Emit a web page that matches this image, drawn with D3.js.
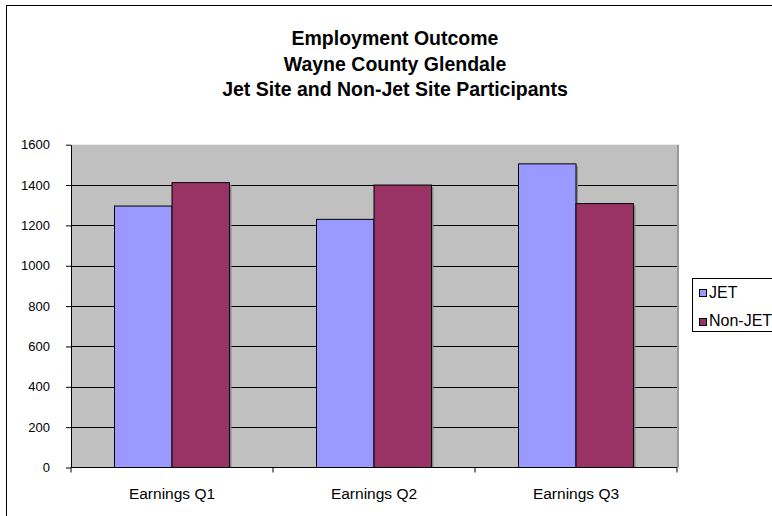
<!DOCTYPE html>
<html>
<head>
<meta charset="utf-8">
<script src="https://cdn.jsdelivr.net/npm/d3@7"></script>
<style>
  body { margin: 0; background: #fff; }
  svg { display: block; font-family: Arial, "Liberation Sans", sans-serif; }
</style>
</head>
<body>
<svg width="772" height="516"></svg>
<script>
// chart data
const categories = ["Earnings Q1", "Earnings Q2", "Earnings Q3"];
const seriesNames = ["JET", "Non-JET"];
const jetValues = [1296, 1230, 1505];
const nonJetValues = [1412, 1400, 1308];
const yTicks = [0, 200, 400, 600, 800, 1000, 1200, 1400, 1600];
const titleLines = ["Employment Outcome", "Wayne County Glendale", "Jet Site and Non-Jet Site Participants"];

const colors = {JET: "#9999ff", "Non-JET": "#993366"};
const series = [jetValues, nonJetValues];

let svg = d3.select("svg");

// outer chart frame (runs off the right and bottom of the picture)
svg.append('rect')
    .attr('x', 6.5).attr('y', 5.5)
    .attr('width', 790).attr('height', 530)
    .attr('fill', "#fff")
    .attr('stroke', "#000")
    .attr('stroke-width', 1);

let plotLeft = 71, plotRight = 677, plotTop = 144.7, plotBottom = 467.5;

let x = d3.scaleBand().domain(categories).range([plotLeft, plotRight]);
let xi = d3.scaleBand().domain(seriesNames).range([0, 115]);
let y = d3.scaleLinear().domain([0, 1600]).range([plotBottom, plotTop]);

// plot area
svg.append('rect')
    .attr('x', plotLeft).attr('y', plotTop)
    .attr('width', plotRight - plotLeft).attr('height', plotBottom - plotTop)
    .attr('fill', "#c0c0c0");
svg.append('line')
    .attr('x1', plotRight + 1).attr('x2', plotRight + 1)
    .attr('y1', plotTop).attr('y2', plotBottom)
    .attr('stroke', "#999").attr('stroke-width', 2);

// gridlines
svg.append('g')
    .selectAll('line')
    .data(yTicks.filter(d => d > 0 && d < 1600))
    .join('line')
    .attr('x1', plotLeft).attr('x2', plotRight)
    .attr('y1', d => Math.round(y(d)) + 0.5).attr('y2', d => Math.round(y(d)) + 0.5)
    .attr('stroke', "#000").attr('stroke-width', 1);

// bar shadows, then bars
let barX = (name, i) => x(categories[i]) + (x.bandwidth() - 115) / 2 + xi(name);
series.forEach((vals, si) => {
    let name = seriesNames[si];
    svg.append('g')
        .selectAll('rect')
        .data(vals)
        .join('rect')
        .attr('x', (d, i) => barX(name, i) + 2)
        .attr('y', d => y(d) + 2)
        .attr('width', xi.bandwidth())
        .attr('height', d => plotBottom - y(d) - 2)
        .attr('fill', "#8a8a8a");
});
series.forEach((vals, si) => {
    let name = seriesNames[si];
    svg.append('g')
        .selectAll('rect')
        .data(vals)
        .join('rect')
        .attr('x', (d, i) => barX(name, i))
        .attr('y', d => y(d))
        .attr('width', xi.bandwidth())
        .attr('height', d => plotBottom - y(d))
        .attr('fill', colors[name])
        .attr('stroke', "#000")
        .attr('stroke-width', 1);
});

// y axis
let yAxis = svg.append('g')
    .attr('transform', `translate(${plotLeft},0)`)
    .call(d3.axisLeft(y).tickValues(yTicks).tickFormat(d3.format("d"))
        .tickSize(5).tickPadding(16).tickSizeOuter(0));
yAxis.select('.domain').attr('stroke', "#000");
yAxis.selectAll('text').attr('font-size', 13).attr('fill', "#000")
    .attr('font-family', "Arial, 'Liberation Sans', sans-serif");

// x axis with ticks between categories
let xAxis = svg.append('g')
    .attr('transform', `translate(0,${plotBottom})`);
xAxis.append('line')
    .attr('x1', plotLeft).attr('x2', plotRight)
    .attr('stroke', "#000");
xAxis.selectAll('line.tick')
    .data(categories.concat(["end"]))
    .join('line')
    .attr('class', "tick")
    .attr('x1', (d, i) => plotLeft + i * x.step()).attr('x2', (d, i) => plotLeft + i * x.step())
    .attr('y1', 0).attr('y2', 5)
    .attr('stroke', "#000");
xAxis.selectAll('text')
    .data(categories)
    .join('text')
    .attr('x', d => x(d) + x.bandwidth() / 2)
    .attr('y', 31)
    .attr('text-anchor', "middle")
    .attr('font-size', 15.5)
    .text(d => d);

// title
svg.append('g')
    .selectAll('text')
    .data(titleLines)
    .join('text')
    .attr('x', 395)
    .attr('y', (d, i) => 45 + i * 25.5)
    .attr('text-anchor', "middle")
    .attr('font-size', 19.5)
    .attr('font-weight', "bold")
    .text(d => d);

// legend
let legend = svg.append('g').attr('transform', "translate(692,278)");
legend.append('rect')
    .attr('x', 0.5).attr('y', 0.5)
    .attr('width', 110).attr('height', 53)
    .attr('fill', "#fff")
    .attr('stroke', "#000");
seriesNames.forEach((name, i) => {
    legend.append('rect')
        .attr('x', 7.5).attr('y', 11.5 + i * 29)
        .attr('width', 7).attr('height', 7)
        .attr('fill', colors[name])
        .attr('stroke', "#000");
    legend.append('text')
        .attr('x', 17).attr('y', 19.5 + i * 28.5)
        .attr('font-size', 16)
        .text(name);
});
</script>
</body>
</html>
